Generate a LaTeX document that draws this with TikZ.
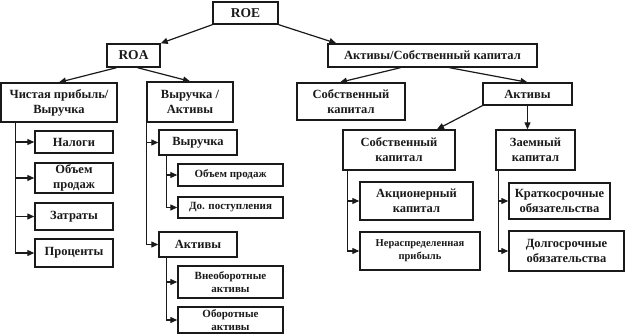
\documentclass[tikz,border=0pt]{standalone}
\usepackage{fontspec}
\setmainfont{Liberation Serif}
\usetikzlibrary{arrows.meta}
\definecolor{bg}{HTML}{FFFFFF}
\definecolor{ink}{HTML}{1A1A1A}

\begin{document}
\begin{tikzpicture}[x=1pt,y=-1pt,font=\fontsize{12.5}{15}\selectfont\bfseries,
  box/.style={draw=ink,line width=1.4pt,align=center,inner sep=0pt,text=ink},
  small/.style={font=\fontsize{11}{13}\selectfont\bfseries},
  link/.style={-{Triangle[length=7pt,width=6pt]},line width=1.2pt,ink},
  tree/.style={-{Triangle[length=7pt,width=6pt]},line width=1.2pt,ink}]
  \fill[bg] (0,0) rectangle (625,334);
  \useasboundingbox (0,0) rectangle (625,334);

  % ===== top levels =====
  \node[box,font=\fontsize{13.5}{15}\selectfont\bfseries,minimum width=65pt,minimum height=22pt] (roe) at (245.5,13) {ROE};
  \node[box,font=\fontsize{13.5}{15}\selectfont\bfseries,minimum width=53pt,minimum height=23pt] (roa) at (133.5,55.5) {ROA};
  \node[box,minimum width=209pt,minimum height=23pt] (leverage) at (432.5,55.5) {Активы/Собственный капитал};

  \node[box,minimum width=116pt,minimum height=39pt] (margin) at (59,102.5) {Чистая прибыль/\\Выручка};
  \node[box,minimum width=86pt,minimum height=40pt] (turnover) at (190,102) {Выручка /\\Активы};
  \node[box,minimum width=108pt,minimum height=37pt] (equitytop) at (351,101.5) {Собственный\\капитал};
  \node[box,minimum width=89pt,minimum height=22pt] (assetstop) at (527.5,94) {Активы};
  \node[box,minimum width=112pt,minimum height=40pt] (equity) at (399,150) {Собственный\\капитал};
  \node[box,minimum width=79pt,minimum height=40pt] (debt) at (535.5,150) {Заемный\\капитал};

  % ===== margin branch =====
  \node[box,minimum width=78pt,minimum height=22pt] (taxes) at (74,142) {Налоги};
  \node[box,minimum width=78pt,minimum height=30pt] (volume) at (74,178) {Объем\\продаж};
  \node[box,minimum width=78pt,minimum height=27pt] (costs) at (74,216.5) {Затраты};
  \node[box,minimum width=78pt,minimum height=28pt] (interest) at (74,253) {Проценты};

  % ===== turnover branch =====
  \node[box,minimum width=78pt,minimum height=25pt] (revenue) at (198,142.5) {Выручка};
  \node[box,small,minimum width=105pt,minimum height=22pt] (salesvol) at (230.5,175) {Объем продаж};
  \node[box,small,minimum width=105pt,minimum height=21pt] (otherinc) at (230.5,207.5) {До. поступления};
  \node[box,minimum width=78pt,minimum height=25pt] (assets) at (198,244.5) {Активы};
  \node[box,small,minimum width=105pt,minimum height=32pt] (noncurrent) at (230.5,282) {Внеоборотные\\активы};
  \node[box,small,minimum width=105pt,minimum height=26pt] (current) at (230.5,320) {Оборотные\\активы};

  % ===== capital branch =====
  \node[box,minimum width=113pt,minimum height=38pt] (sharecap) at (416.5,201) {Акционерный\\капитал};
  \node[box,small,font=\fontsize{10.5}{13}\selectfont\bfseries,minimum width=120pt,minimum height=38pt] (retained) at (420,251) {Нераспределенная\\прибыль};
  \node[box,minimum width=101pt,minimum height=36pt] (shortdebt) at (559.5,201) {Краткосрочные\\обязательства};
  \node[box,minimum width=115pt,minimum height=40pt] (longdebt) at (566.5,251) {Долгосрочные\\обязательства};

  % ===== links =====
  \draw[link] (roe.south west) -- (roa.north east);
  \draw[link] (roe.south east) -- ([xshift=9pt]leverage.north west);
  \draw[link] ([xshift=-17pt]roa.south) -- (margin.north);
  \draw[link] ([xshift=4pt]roa.south) -- (turnover.north);
  \draw[link] ([xshift=-32pt]leverage.south) -- ([xshift=-11pt]equitytop.north);
  \draw[link] ([xshift=17pt]leverage.south) -- (assetstop.north);
  \draw[link] (assetstop.south west) -- ([xshift=38pt]equity.north);
  \draw[link] (assetstop.south) -- (assetstop.south |- debt.north);

  \draw[tree] ([xshift=15pt]margin.south west) |- (taxes.west);
  \draw[tree] ([xshift=15pt]margin.south west) |- (volume.west);
  \draw[tree] ([xshift=15pt]margin.south west) |- (costs.west);
  \draw[tree] ([xshift=15pt]margin.south west) |- (interest.west);
  \draw[tree] (turnover.south west) |- (revenue.west);
  \draw[tree] (turnover.south west) |- (assets.west);
  \draw[tree] ([xshift=8pt]revenue.south west) |- (salesvol.west);
  \draw[tree] ([xshift=8pt]revenue.south west) |- (otherinc.west);
  \draw[tree] ([xshift=8pt]assets.south west) |- (noncurrent.west);
  \draw[tree] ([xshift=8pt]assets.south west) |- (current.west);
  \draw[tree] ([xshift=5pt]equity.south west) |- (sharecap.west);
  \draw[tree] ([xshift=5pt]equity.south west) |- (retained.west);
  \draw[tree] ([xshift=3pt]debt.south west) |- (shortdebt.west);
  \draw[tree] ([xshift=3pt]debt.south west) |- (longdebt.west);
\end{tikzpicture}
\end{document}
